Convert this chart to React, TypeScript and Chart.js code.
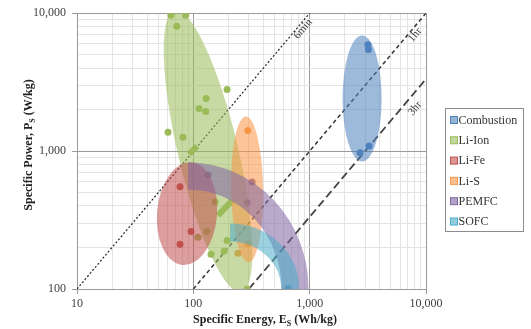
import { useEffect, useRef } from 'react';
import { Chart, registerables } from 'chart.js';
Chart.register(...registerables);

// ---------- data ----------
const seriesNames = ['Combustion', 'Li-Ion', 'Li-Fe', 'Li-S', 'PEMFC', 'SOFC'];
const seriesColors = ['#4F81BD', '#9BBB59', '#C0504D', '#F79646', '#8064A2', '#4BACC6'];

const combustionE = [3160, 3198, 2712, 3243];
const combustionP = [5914, 5445, 972, 1087];
const liIonE = [64.3, 86, 72, 195, 128.6, 111.9, 127.8, 60.6, 81.5, 153.7, 131, 109.7, 142, 183.6, 195, 290];
const liIonP = [9680, 9680, 8055, 2793, 2406, 2038, 1940, 1370, 1261, 430, 261, 237, 178.6, 187.7, 225, 100];
const liIonBandE = [[91.8, 107.6], [163, 215]];
const liIonBandP = [[951, 1087], [341, 437]];
const liFeE = [76.9, 95.5, 76.9];
const liFeP = [551, 261, 211];
const liSE = [294, 294, 242];
const liSP = [1412, 213, 182];
const pemfcE = [134, 320, 290];
const pemfcP = [672, 598, 422];
const sofcE = [652];
const sofcP = [101];

// discharge-time reference lines
const lineNames = ['6min', '1hr', '3hr'];
const lineE = [[10, 1000], [100, 10000], [300, 10000]];
const lineP = [[100, 10000], [100, 10000], [100, 3333]];
const lineLabelE = [877, 8055, 8055];
const lineLabelP = [7674, 6950, 2038];

// shaded regions (ellipses) in data units: centre and spread in decades
const ellipseSeries = [0, 1, 2, 3];
const ellipseCenterE = [2824, 133.7, 88.3, 290];
const ellipseCenterP = [2406, 1000, 352, 528];
const ellipseSpreadE = [0.168, 0.258, 0.258, 0.138];
const ellipseSpreadP = [0.457, 1.05, 0.374, 0.529];
const ellipseTilt = [0, -13.3, 5, -1];

// curved bands
const arcSeries = [4, 5];
const arcOriginE = [90, 207];
const arcOriginP = [100, 100];
const arcSpreadE = [0.92, 0.516];
const arcSpreadP = [0.82, 0.41];

// axes
const xMajor = [10, 100, 1000, 10000];
const yMajor = [100, 1000, 10000];
const minorSteps = [1, 2, 3, 4, 5, 6, 7, 8, 9];

// ---------- styles ----------
const FONT = '"Liberation Serif", "Times New Roman", serif';
const arcWidths = [27, 18];
const regionAlpha = 0.55;

function hexA(hex: string, a: number) {
  const n = parseInt(hex.slice(1), 16);
  return `rgba(${(n >> 16) & 255},${(n >> 8) & 255},${n & 255},${a})`;
}
function buildTicks(major: number[]) {
  const out: number[] = [];
  for (let i = 0; i < major.length - 1; i++) {
    for (const s of minorSteps) out.push(major[i] * s);
  }
  out.push(major[major.length - 1]);
  return out;
}
const isMajor = (v: number) => Math.abs(Math.log10(v) - Math.round(Math.log10(v))) < 1e-6;
const pts = (e: number[], p: number[]) => e.map((v, i) => ({ x: v, y: p[i] }));

const overlayPlugin = {
  id: 'overlay',
  afterDatasetsDraw(chart: any) {
    const { ctx, chartArea: ca } = chart;
    const xs = chart.scales.x;
    const ys = chart.scales.y;
    ctx.save();
    ctx.beginPath();
    ctx.rect(ca.left, ca.top, ca.right - ca.left, ca.bottom - ca.top);
    ctx.clip();
    ellipseSeries.forEach((s, i) => {
      const cx = xs.getPixelForValue(ellipseCenterE[i]);
      const cy = ys.getPixelForValue(ellipseCenterP[i]);
      const rx = xs.getPixelForValue(ellipseCenterE[i] * Math.pow(10, ellipseSpreadE[i])) - cx;
      const ry = cy - ys.getPixelForValue(ellipseCenterP[i] * Math.pow(10, ellipseSpreadP[i]));
      ctx.beginPath();
      ctx.ellipse(cx, cy, rx, ry, (ellipseTilt[i] * Math.PI) / 180, 0, Math.PI * 2);
      ctx.fillStyle = hexA(seriesColors[s], regionAlpha);
      ctx.fill();
    });
    arcSeries.forEach((s, i) => {
      const cx = xs.getPixelForValue(arcOriginE[i]);
      const cy = ys.getPixelForValue(arcOriginP[i]);
      const rx = xs.getPixelForValue(arcOriginE[i] * Math.pow(10, arcSpreadE[i])) - cx;
      const ry = cy - ys.getPixelForValue(arcOriginP[i] * Math.pow(10, arcSpreadP[i]));
      ctx.beginPath();
      ctx.ellipse(cx, cy, rx, ry, 0, -Math.PI / 2, 0.2);
      ctx.strokeStyle = hexA(seriesColors[s], regionAlpha);
      ctx.lineWidth = arcWidths[i];
      ctx.lineCap = 'butt';
      ctx.stroke();
    });
    ctx.restore();

    // line labels
    ctx.save();
    ctx.fillStyle = '#333';
    ctx.font = `11px ${FONT}`;
    ctx.textAlign = 'center';
    ctx.textBaseline = 'middle';
    lineNames.forEach((n, i) => {
      const px = xs.getPixelForValue(lineLabelE[i]);
      const py = ys.getPixelForValue(lineLabelP[i]);
      ctx.save();
      ctx.translate(px, py);
      ctx.rotate(-50 * Math.PI / 180);
      ctx.fillText(n, 0, 0);
      ctx.restore();
    });
    ctx.restore();

    // legend
    ctx.save();
    ctx.strokeStyle = '#8c8c8c';
    ctx.lineWidth = 1;
    ctx.fillStyle = '#fff';
    ctx.fillRect(445.5, 108.5, 78, 123);
    ctx.strokeRect(445.5, 108.5, 78, 123);
    ctx.font = `12px ${FONT}`;
    ctx.textBaseline = 'middle';
    ctx.textAlign = 'left';
    seriesNames.forEach((n, i) => {
      const yc = 120 + i * 20.3;
      ctx.fillStyle = hexA(seriesColors[i], 0.6);
      ctx.fillRect(450.5, yc - 3.5, 7, 7);
      ctx.strokeStyle = seriesColors[i];
      ctx.strokeRect(450.5, yc - 3.5, 7, 7);
      ctx.fillStyle = '#333';
      ctx.fillText(n, 458.5, yc + 0.5);
    });
    ctx.restore();

    // axis titles with subscripts
    const drawTitle = (parts: [string, boolean][], cx: number, cy: number, rot: number) => {
      ctx.save();
      ctx.translate(cx, cy);
      ctx.rotate(rot);
      ctx.fillStyle = '#222';
      ctx.textBaseline = 'alphabetic';
      ctx.textAlign = 'left';
      const big = `bold 12px ${FONT}`;
      const small = `bold 8px ${FONT}`;
      let w = 0;
      parts.forEach(([t, sub]) => { ctx.font = sub ? small : big; w += ctx.measureText(t).width; });
      let x = -w / 2;
      parts.forEach(([t, sub]) => {
        ctx.font = sub ? small : big;
        ctx.fillText(t, x, sub ? 7 : 4);
        x += ctx.measureText(t).width;
      });
      ctx.restore();
    };
    drawTitle([['Specific Energy, E', false], ['S', true], [' (Wh/kg)', false]], 265, 319, 0);
    drawTitle([['Specific Power, P', false], ['S', true], [' (W/kg)', false]], 28, 145, -Math.PI / 2);
  },
};

export default function App() {
  const ref = useRef<HTMLCanvasElement>(null);
  useEffect(() => {
    if (!ref.current) return;
    const pointDs = (label: string, color: string, e: number[], p: number[]) => ({
      label,
      data: pts(e, p),
      backgroundColor: color,
      borderColor: color,
      pointRadius: 3.5,
      pointBorderWidth: 0,
      showLine: false,
    });
    const datasets: any[] = [
      pointDs('Combustion', seriesColors[0], combustionE, combustionP),
      pointDs('Li-Ion', seriesColors[1], liIonE, liIonP),
      pointDs('Li-Fe', seriesColors[2], liFeE, liFeP),
      pointDs('Li-S', seriesColors[3], liSE, liSP),
      pointDs('PEMFC', seriesColors[4], pemfcE, pemfcP),
      pointDs('SOFC', seriesColors[5], sofcE, sofcP),
    ];
    liIonBandE.forEach((e, i) => {
      datasets.push({
        label: 'Li-Ion band ' + i,
        data: pts(e, liIonBandP[i]),
        showLine: true,
        borderColor: seriesColors[1],
        borderWidth: 6,
        pointRadius: 0,
      });
    });
    const dashes = [[2, 2], [4, 3], [8, 4]];
    const widths = [1.2, 1.5, 1.8];
    const colors = ['#222', '#333', '#444'];
    lineNames.forEach((n, i) => {
      datasets.push({
        label: n,
        data: pts(lineE[i], lineP[i]),
        showLine: true,
        borderColor: colors[i],
        borderWidth: widths[i],
        borderDash: dashes[i],
        pointRadius: 0,
      });
    });
    const gridColor = (c: any) => (isMajor(c.tick.value) ? '#9a9a9a' : '#e4e4e4');
    const tickColor = (c: any) => (isMajor(c.tick.value) ? '#9a9a9a' : 'rgba(0,0,0,0)');
    const xTicks = buildTicks(xMajor);
    const yTicks = buildTicks(yMajor);
    const chart = new Chart(ref.current, {
      type: 'scatter',
      data: { datasets },
      plugins: [overlayPlugin],
      options: {
        animation: false,
        responsive: false,
        devicePixelRatio: 1,
        layout: { padding: { top: 11, right: 105, left: 0, bottom: 0 } },
        plugins: { legend: { display: false }, tooltip: { enabled: false } },
        scales: {
          x: {
            type: 'logarithmic',
            min: 10,
            max: 10000,
            afterBuildTicks: (s: any) => { s.ticks = xTicks.map((v) => ({ value: v })); },
            afterFit: (s: any) => { s.height = 40; },
            grid: { color: gridColor, tickColor, tickLength: 5 },
            border: { color: '#9a9a9a' },
            ticks: {
              autoSkip: false,
              maxRotation: 0,
              padding: 3,
              color: '#404040',
              font: { family: FONT, size: 12 },
              callback: (v: any) => (xMajor.includes(Number(v)) ? Number(v).toLocaleString('en-US') : ''),
            },
          },
          y: {
            type: 'logarithmic',
            min: 100,
            max: 10000,
            afterBuildTicks: (s: any) => { s.ticks = yTicks.map((v) => ({ value: v })); },
            afterFit: (s: any) => { s.width = 77; },
            grid: { color: gridColor, tickColor, tickLength: 5 },
            border: { color: '#9a9a9a' },
            ticks: {
              autoSkip: false,
              padding: 6,
              color: '#404040',
              font: { family: FONT, size: 12 },
              callback: (v: any) => (yMajor.includes(Number(v)) ? Number(v).toLocaleString('en-US') : ''),
            },
          },
        },
      } as any,
    });
    return () => chart.destroy();
  }, []);
  return (
    <div style={{ position: 'fixed', left: 0, top: 0, width: 531, height: 329, background: '#fff' }}>
      <canvas ref={ref} width={531} height={329} />
    </div>
  );
}
